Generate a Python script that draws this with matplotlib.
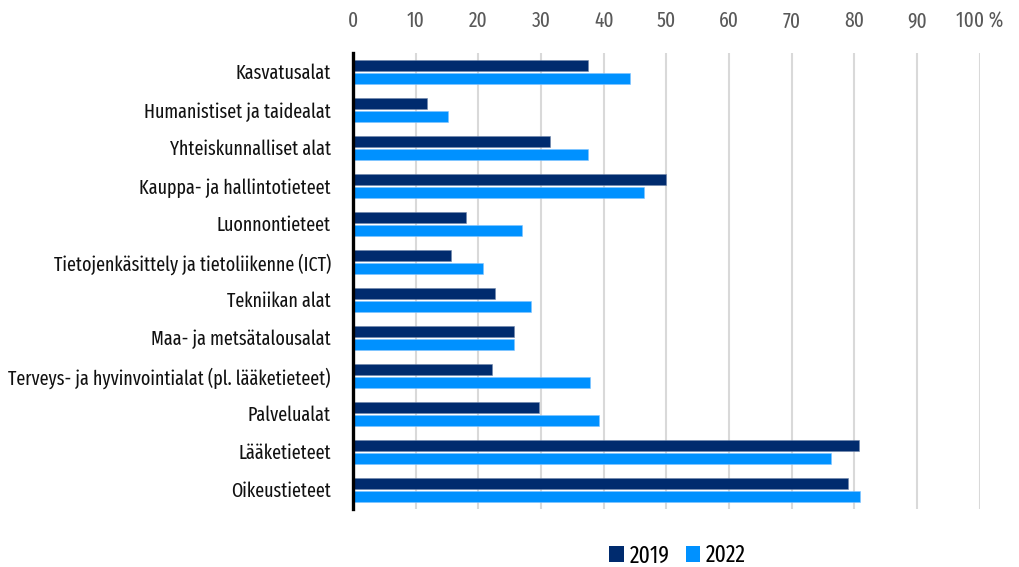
import matplotlib
matplotlib.use("Agg")
import matplotlib.pyplot as plt
from matplotlib import font_manager as fm
import numpy as np
from matplotlib.patches import Patch

categories = [
    "Kasvatusalat",
    "Humanistiset ja taidealat",
    "Yhteiskunnalliset alat",
    "Kauppa- ja hallintotieteet",
    "Luonnontieteet",
    "Tietojenkäsittely ja tietoliikenne (ICT)",
    "Tekniikan alat",
    "Maa- ja metsätalousalat",
    "Terveys- ja hyvinvointialat (pl. lääketieteet)",
    "Palvelualat",
    "Lääketieteet",
    "Oikeustieteet",
]
values_2019 = [37.5, 11.8, 31.4, 50.0, 18.0, 15.6, 22.7, 25.7, 22.2, 29.7, 80.8, 78.9]
values_2022 = [44.2, 15.1, 37.5, 46.5, 27.0, 20.8, 28.4, 25.7, 37.8, 39.3, 76.2, 80.9]
series_labels = ["2019", "2022"]
x_ticks = [0, 10, 20, 30, 40, 50, 60, 70, 80, 90, 100]
x_tick_labels = ["0", "10", "20", "30", "40", "50", "60", "70", "80", "90", "100 %"]

# pick a condensed font if one is installed
bad = ["bold", "oblique", "italic", "light", "thin", "medium", "black", "semi", "heavy", "book"]
cands = []
for f in fm.fontManager.ttflist:
    low = f.fname.lower().split("/")[-1]
    if ("narrow" in low or "condensed" in low) and not any(b in low for b in bad):
        cands.append(f.fname)
fname = None
for p in ["extracondensed", "liberationsansnarrow-regular", "narrow", "condensed"]:
    for c in sorted(cands):
        if p in c.lower().split("/")[-1]:
            fname = c
            break
    if fname:
        break

def fp(size):
    if fname:
        return fm.FontProperties(fname=fname, size=size)
    return fm.FontProperties(family="DejaVu Sans", size=size)

c2019 = "#002B6E"
c2022 = "#0091FF"

fig = plt.figure(figsize=(10.19, 5.67), dpi=100)
renderer = fig.canvas.get_renderer()

# fit label size so the longest label has the reference width (~322 px)
tmp = fig.text(0, 0, categories[8], fontproperties=fp(14))
w = tmp.get_window_extent(renderer).width
tmp.remove()
lab_size = min(15.5, 14 * 322.0 / w)

ax = fig.add_axes([0.3465, 0.103, 0.615, 0.804])

y = np.arange(len(categories))
h = 0.29
ax.barh(y - h / 2 - 0.025, values_2019, height=h, color=c2019, edgecolor="#6f86ab", linewidth=0.4, zorder=3)
ax.barh(y + h / 2 + 0.025, values_2022, height=h, color=c2022, edgecolor="#80c4ff", linewidth=0.4, zorder=3)

ax.set_ylim(len(categories) - 0.5, -0.5)
ax.set_xlim(0, 100)
ax.set_yticks(y)
ax.set_yticklabels(categories, color="#111111")
for t in ax.get_yticklabels():
    t.set_fontproperties(fp(lab_size))
ax.tick_params(axis="y", length=0, pad=16)

ax.xaxis.tick_top()
ax.set_xticks(x_ticks)
ax.set_xticklabels(x_tick_labels, color="#595959")
for t in ax.get_xticklabels():
    t.set_fontproperties(fp(lab_size * 1.08))
ax.tick_params(axis="x", length=0, pad=15)

ax.grid(axis="x", color="#D9D9D9", linewidth=1.5, zorder=0)
ax.set_axisbelow(True)
for s in ["top", "right", "bottom"]:
    ax.spines[s].set_visible(False)
ax.spines["left"].set_linewidth(2.4)
ax.spines["left"].set_color("black")
ax.spines["left"].set_zorder(5)

handles = [Patch(facecolor=c2019, label=series_labels[0]), Patch(facecolor=c2022, label=series_labels[1])]
fig.legend(handles=handles, loc="center", bbox_to_anchor=(0.665, 0.02), ncol=2, frameon=False,
           prop=fp(lab_size * 1.2), handlelength=0.6, handleheight=0.7, handletextpad=0.25, columnspacing=0.7)

fig.savefig("out.png", dpi=100)
